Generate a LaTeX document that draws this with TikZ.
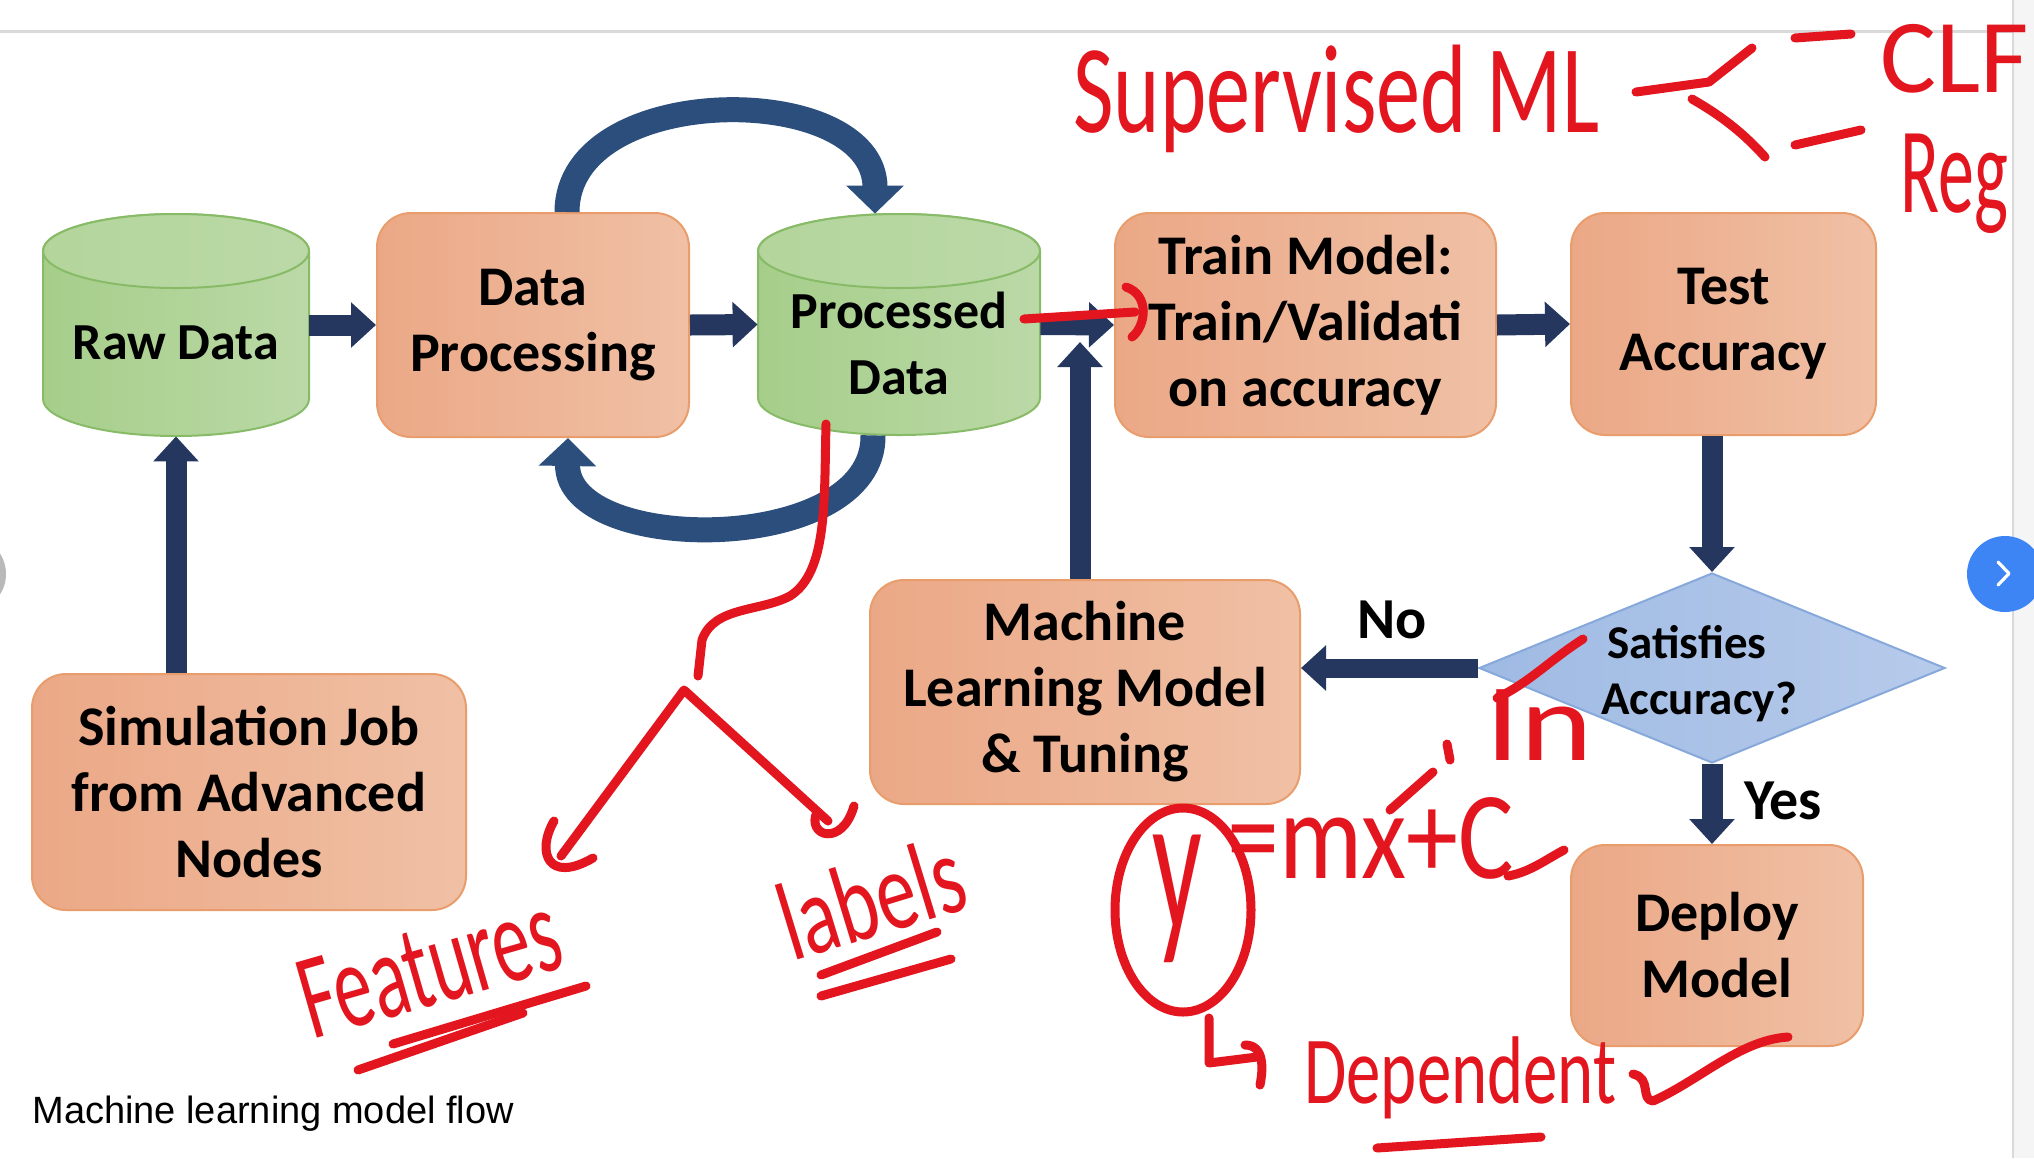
\documentclass[tikz,border=0pt]{standalone}
\usepackage{fontspec}
\setmainfont{Carlito}
\newfontfamily\capfont{Liberation Sans}
\newfontfamily\handfont{Carlito}
\usetikzlibrary{arrows.meta,shapes.geometric,calc}
\definecolor{orgA}{HTML}{EBA886}
\definecolor{orgB}{HTML}{F0C0A5}
\definecolor{orgE}{HTML}{E99D6C}
\definecolor{grnA}{HTML}{A6CE8A}
\definecolor{grnB}{HTML}{BBD9A7}
\definecolor{grnE}{HTML}{88BB68}
\definecolor{diaA}{HTML}{9FBAE3}
\definecolor{diaB}{HTML}{B7CBEB}
\definecolor{diaE}{HTML}{86A8DB}
\definecolor{navy}{HTML}{26375F}
\definecolor{curv}{HTML}{2B4E7C}
\definecolor{ink}{HTML}{E3161F}
\definecolor{btn}{HTML}{3D84F5}
\tikzset{
  x=0.5pt, y=-0.5pt,
  box/.style={draw=orgE, line width=1pt, rounded corners=17pt, left color=orgA, right color=orgB, inner sep=0pt,
    font=\bfseries\fontsize{28}{33}\selectfont, align=center, text=black},
  cylbody/.style={draw=grnE, line width=1pt, left color=grnA, right color=grnB},
  cyltop/.style={draw=grnE, line width=1pt, left color=grnA!85!white, right color=grnB},
  cyltxt/.style={font=\bfseries\fontsize{26}{33}\selectfont, align=center, text=black, inner sep=0pt},
  blk/.style={draw=navy, line width=10.5pt, -{Triangle[width=22pt,length=12.5pt]}},
  curved/.style={draw=curv, line width=12.5pt, -{Triangle[width=28pt,length=14pt]}},
  lbl/.style={font=\bfseries\fontsize{29}{33}\selectfont, text=black, inner sep=0pt},
  pen/.style={draw=ink, line width=4.5pt, line cap=round, line join=round},
  hw/.style={text=ink, inner sep=0pt, anchor=base west},
}
\begin{document}
\begin{tikzpicture}
\useasboundingbox (0,0) rectangle (2034,1158);
\fill[white] (0,0) rectangle (2034,1158);
% browser chrome
\fill[gray!8] (2013,0) rectangle (2034,1158);
\draw[gray!30, line width=1pt] (2013,0) -- (2013,1158);
\draw[gray!30, line width=1.5pt] (0,31) -- (2013,31);
\fill[gray!55] (-32,574) circle[radius=19pt];
\fill[btn] (2005,574) circle[radius=19pt];
\draw[white, line width=1.6pt, line cap=round, line join=round] (1998,562) -- (2009,573.5) -- (1998,585);

% anchor nodes for cylinders
\node[inner sep=0pt, minimum width=133pt, minimum height=111pt] (raw) at (176,325) {};
\node[inner sep=0pt, minimum width=141pt, minimum height=110.5pt] (pd) at (899,324.5) {};

% boxes
\node[box, minimum width=156pt, minimum height=112pt] (dp) at (533,325) {Data\\Processing};
\node[box, minimum width=190.5pt, minimum height=112pt] (train) at (1305.5,325) {Train Model:\\Train/Validati\\on accuracy};
\node[box, minimum width=152.5pt, minimum height=111pt] (test) at (1723.5,324) {Test\\Accuracy};
\node[box, minimum width=217pt, minimum height=118pt] (sim) at (249,792) {Simulation Job\\from Advanced\\Nodes};
\node[box, minimum width=215pt, minimum height=112pt] (ml) at (1085,692) {Machine\\Learning Model\\\& Tuning};
\node[box, minimum width=146pt, minimum height=100.5pt] (deploy) at (1717,945.5) {Deploy\\Model};
\node[diamond, draw=diaE, line width=1pt, left color=diaA, right color=diaB, aspect=2.45,
      minimum width=233pt, minimum height=95pt, inner sep=0pt] (dia) at (1712,668) {};
\node[font=\bfseries\fontsize{23.5}{28}\selectfont, align=center, inner sep=0pt] (diat) at (1699,674) {\hspace*{-12pt}Satisfies\\Accuracy?};

% cylinders
\path[cylbody] (43,251) -- (43,399) arc[start angle=180, end angle=360, x radius=66.5pt, y radius=18.5pt]
   -- (309,251) arc[start angle=0, end angle=180, x radius=66.5pt, y radius=18.5pt] -- cycle;
\path[cyltop] (176,251) ellipse[x radius=66.5pt, y radius=18.5pt];
\path[cylbody] (758,251) -- (758,398) arc[start angle=180, end angle=360, x radius=70.5pt, y radius=18.5pt]
   -- (1040,251) arc[start angle=0, end angle=180, x radius=70.5pt, y radius=18.5pt] -- cycle;
\path[cyltop] (899,251) ellipse[x radius=70.5pt, y radius=18.5pt];
\node[cyltxt] (rawt) at (176,343) {Raw Data};
\node[cyltxt] (pdt) at (899,343) {Processed\\Data};

% connectors
\coordinate (mlup) at (1080,342);
\draw[blk] (raw.east) -- (dp.west);
\draw[blk] (dp.east) -- (pd.west);
\draw[blk] (pd.east) -- (train.west);
\draw[blk] (train.east) -- (test.west);
\draw[blk] (raw.south |- sim.north) -- (raw.south);
\draw[blk] (mlup |- ml.north) -- (mlup);
\draw[blk] (dia.north |- test.south) -- (dia.north);
\draw[blk, line width=9.5pt] (dia.west) -- (dia.west -| ml.east);
\draw[blk] (dia.south) -- (dia.south |- deploy.north);
\draw[curved] ($(dp.north)+(34,0)$) .. controls (567,80) and (875,80) .. ($(pd.north)+(-24,0)$);
\draw[curved] ($(pd.south)+(-26,0)$) .. controls (875,556) and (566,556) .. ($(dp.south)+(35,0)$);
\node[lbl] (no) at (1392,620) {No};
\node[lbl] (yes) at (1783,801) {Yes};

% caption
\node[anchor=base west, inner sep=0pt, font=\capfont\fontsize{19}{23}\selectfont] (cap) at (32,1123) {Machine learning model flow};

% handwritten annotations
\node[hw, font=\handfont\fontsize{42}{42}\selectfont, xscale=1.05, yscale=1.5] (sup) at (1073,132) {Supervised ML};
\draw[pen] (1636,92) -- (1709,82) -- (1752,48);
\draw[pen] (1692,99) .. controls (1725,118) and (1745,135) .. (1765,157);
\draw[pen] (1795,38) -- (1851,34);
\draw[pen] (1795,145) -- (1861,130);
\node[hw, font=\handfont\fontsize{50}{50}\selectfont, xscale=1.05, yscale=1.05] (clf) at (1880,92) {CLF};
\node[hw, font=\handfont\fontsize{36}{36}\selectfont, yscale=1.7] (reg) at (1900,212) {Reg};

\draw[pen] (1024,319) -- (1135,312);
\draw[pen] (1126,287) .. controls (1150,295) and (1146,326) .. (1132,337);

\draw[pen] (826,424) .. controls (824,500) and (828,572) .. (790,596) .. controls (760,612) and (714,606) .. (702,640) -- (698,676);
\draw[pen] (561,856) -- (684,690) -- (828,821);
\draw[pen] (554,821) .. controls (536,852) and (548,884) .. (593,858);
\draw[pen] (817,812) .. controls (806,836) and (842,848) .. (854,806);
\node[hw, font=\handfont\fontsize{38}{38}\selectfont, rotate=16, yscale=1.6] (feat) at (312,1040) {Features};
\draw[pen] (358,1070) -- (523,1013);
\draw[pen] (393,1044) -- (586,986);
\node[hw, font=\handfont\fontsize{40}{40}\selectfont, rotate=17, yscale=1.4] (labl) at (792,962) {labels};
\draw[pen] (821,975) -- (937,932);
\draw[pen] (821,996) -- (951,959);

\draw[pen] (1583,639) .. controls (1550,660) and (1530,682) .. (1497,698);
\node[hw, font=\handfont\fontsize{46}{46}\selectfont, xscale=1.5, yscale=1.2] (inp) at (1485,760) {In};
\draw[pen] (1390,810) -- (1433,772);
\draw[pen] (1447,744) -- (1450,760);

\draw[pen] (1183,910) ellipse[x radius=34pt, y radius=51pt];
\node[hw, font=\handfont\fontsize{50}{50}\selectfont, xscale=1.1, yscale=2] (yv) at (1152,930) {y};
\node[hw, font=\handfont\fontsize{52}{52}\selectfont, yscale=1.2] (eq) at (1227,878) {=mx+C};
\draw[pen] (1508,876) .. controls (1530,872) and (1545,860) .. (1564,850);
\draw[pen] (1209,1018) -- (1209,1063) -- (1257,1057);
\draw[pen] (1245,1045) .. controls (1265,1045) and (1263,1070) .. (1260,1085);
\node[hw, font=\handfont\fontsize{37}{37}\selectfont, xscale=0.93, yscale=1.3] (dep) at (1304,1103) {Dependent};
\draw[pen] (1377,1148) -- (1541,1137);
\draw[pen] (1633,1074) .. controls (1652,1078) and (1640,1100) .. (1653,1101) .. controls (1700,1080) and (1740,1040) .. (1788,1037);
\end{tikzpicture}
\end{document}
